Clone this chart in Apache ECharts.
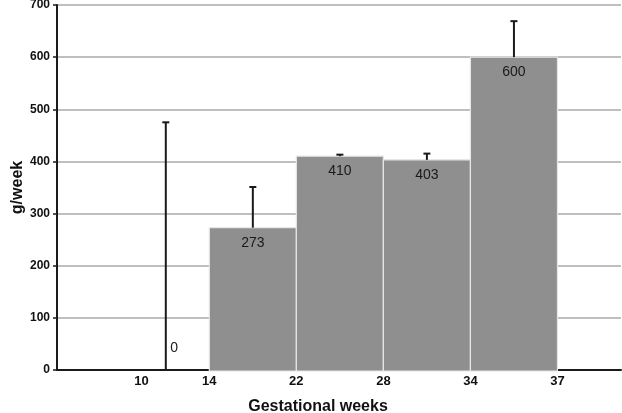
<!DOCTYPE html>
<html>
<head>
<meta charset="utf-8">
<script src="https://cdn.jsdelivr.net/npm/echarts@6/dist/echarts.min.js"></script>
<style>html,body{margin:0;padding:0;background:#fff}#c{width:622px;height:413px}</style>
</head>
<body>
<div id="c"></div>
<script>
// Data
const categories = ['10–14', '14–22', '22–28', '28–34', '34–37'];
const gainValues = [0, 273, 410, 403, 600];
const errorUpper = [475, 351, 413, 415, 669];
const tickLabels = ['10', '14', '22', '28', '34', '37'];
const tickPositions = [0.22, 1, 2, 3, 4, 5];

const FONT = '"Liberation Sans", Arial, sans-serif';
const chart = echarts.init(document.getElementById('c'), null, { renderer: 'canvas' });

const barData = gainValues.map((v, i) => [i, v, categories[i]]);
const errData = gainValues.map((v, i) => [i, v, errorUpper[i]]);

chart.setOption({
  animation: false,
  backgroundColor: '#fff',
  grid: { left: 57, right: 1, top: 5, bottom: 43, containLabel: false, outerBoundsMode: 'none' },
  xAxis: {
    type: 'value',
    min: -0.75,
    max: 5.73,
    splitLine: { show: false },
    axisLine: { show: true, onZero: false, lineStyle: { color: '#1a1a1a', width: 2 } },
    axisTick: { show: false },
    axisLabel: {
      customValues: tickPositions,
      formatter: (val) => tickLabels[tickPositions.indexOf(val)],
      color: '#111',
      fontFamily: FONT,
      fontSize: 13,
      fontWeight: 'bold',
      margin: 5
    }
  },
  yAxis: {
    type: 'value',
    min: 0,
    max: 700,
    interval: 100,
    name: 'g/week',
    nameLocation: 'middle',
    nameRotate: 90,
    nameGap: 31,
    nameMoveOverlap: false,
    nameTextStyle: { fontFamily: FONT, fontSize: 16, fontWeight: 'bold', color: '#111' },
    axisLine: { show: true, onZero: false, lineStyle: { color: '#1a1a1a', width: 2 } },
    axisTick: { show: true, length: 4, lineStyle: { color: '#1a1a1a', width: 1.5 } },
    splitLine: { show: true, lineStyle: { color: '#aaaaaa', width: 1.5 } },
    axisLabel: {
      formatter: v => String(v),
      color: '#111',
      fontFamily: FONT,
      fontSize: 12,
      fontWeight: 'bold',
      margin: 7
    }
  },
  graphic: [{
    type: 'text',
    x: 318,
    y: 407,
    style: {
      text: 'Gestational weeks',
      font: 'bold 16px ' + FONT,
      fill: '#111',
      align: 'center',
      verticalAlign: 'middle'
    }
  }],
  series: [
    {
      type: 'custom',
      name: 'bars',
      z: 2,
      data: barData,
      renderItem: (params, api) => {
        const i = api.value(0), v = api.value(1);
        const base = api.coord([i, 0]);
        const top = api.coord([i + 1, v]);
        const cx = api.coord([i + 0.5, v])[0];
        const children = [];
        if (v > 0) {
          children.push({
            type: 'rect',
            shape: { x: base[0], y: top[1], width: top[0] - base[0], height: base[1] - top[1] + 1 },
            style: { fill: '#8f8f8f', stroke: '#e6e6e6', lineWidth: 1.2 }
          });
          children.push({
            type: 'text', z2: 10,
            style: { x: cx, y: top[1] + 15, text: String(v), align: 'center', verticalAlign: 'middle',
              font: '14px ' + FONT, fill: '#1a1a1a' }
          });
        } else {
          children.push({
            type: 'text', z2: 10,
            style: { x: cx + 4.5, y: base[1] - 22, text: String(v), align: 'left', verticalAlign: 'middle',
              font: '14px ' + FONT, fill: '#1a1a1a' }
          });
        }
        return { type: 'group', children };
      }
    },
    {
      type: 'custom',
      name: 'error',
      z: 3,
      data: errData,
      renderItem: (params, api) => {
        const i = api.value(0);
        const lo = api.coord([i + 0.5, api.value(1)]);
        const hi = api.coord([i + 0.5, api.value(2)]);
        const st = { stroke: '#1a1a1a', lineWidth: 2 };
        return {
          type: 'group',
          children: [
            { type: 'line', shape: { x1: lo[0], y1: lo[1], x2: hi[0], y2: hi[1] }, style: st },
            { type: 'line', shape: { x1: hi[0] - 3.5, y1: hi[1], x2: hi[0] + 3.5, y2: hi[1] }, style: st }
          ]
        };
      }
    }
  ]
});
</script>
</body>
</html>
